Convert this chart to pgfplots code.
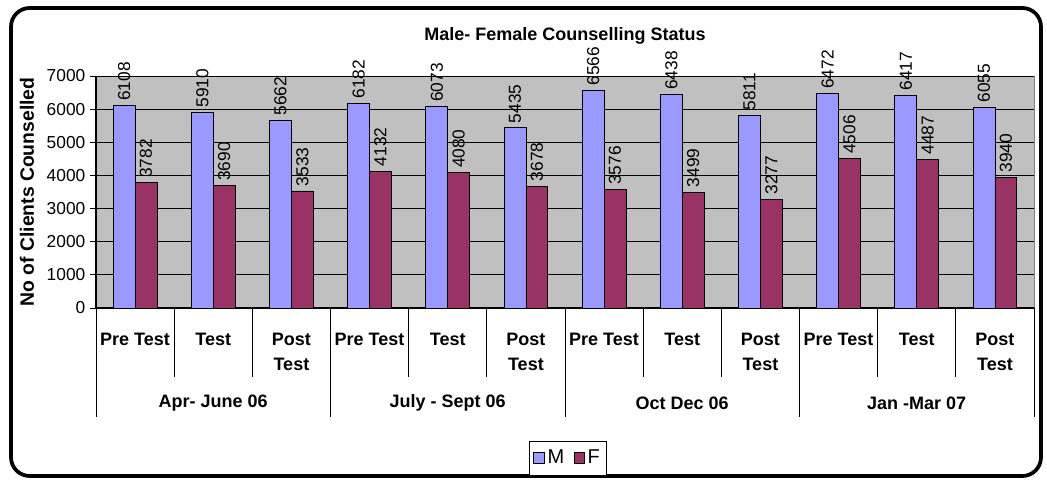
\documentclass[border=0pt]{standalone}
\usepackage{pgfplots}
\pgfplotsset{compat=1.18}
\usepackage{fontspec}
\setmainfont{Liberation Sans}
\definecolor{barM}{HTML}{9999FF}
\definecolor{barF}{HTML}{993366}
\definecolor{plotgray}{HTML}{C0C0C0}

\begin{document}
\begin{tikzpicture}
\path[use as bounding box] (0,0) rectangle (785.25pt,360pt);
\draw[line width=2.8pt, rounded corners=14pt] (8.25pt,3pt) rectangle (780.75pt,354pt);
\begin{axis}[
  at={(72pt,129pt)}, anchor=south west,
  width=703.5pt, height=174pt, scale only axis,
  ybar=0pt, bar width=0.28,
  ymin=0, ymax=7000, xmin=-0.5, xmax=11.5,
  ytick={0,1000,...,7000},
  xtick={0,...,11},
  xticklabels={Pre Test,Test,{Post\\Test},Pre Test,Test,{Post\\Test},Pre Test,Test,{Post\\Test},Pre Test,Test,{Post\\Test}},
  xticklabel style={anchor=north, yshift=-11pt, align=center, font=\fontsize{13.5}{18.75}\selectfont\bfseries},
  yticklabel style={font=\fontsize{13}{15}\selectfont},
  /pgf/number format/assume math mode=true,
  /pgf/number format/1000 sep={},
  x tick style={draw=none},
  y tick style={black, line width=0.6pt},
  tick align=outside, major tick length=4.5pt,
  axis x line*=bottom, axis y line*=left,
  axis line style={black, line width=0.8pt},
  ymajorgrids, grid style={black, line width=0.6pt},
  axis background/.style={fill=plotgray, draw=gray},
  clip=false,
  title={\fontsize{13.5}{16}\selectfont\bfseries Male- Female Counselling Status},
  title style={at={(0.5,1)}, anchor=center, yshift=24pt},
  ylabel={\fontsize{14.5}{16}\selectfont\bfseries No of Clients Counselled},
  ylabel style={at={(-0.0736,0.5)}, anchor=center},
  nodes near coords,
  every node near coord/.append style={rotate=90, anchor=west, font=\fontsize{13}{15}\selectfont, black},
  legend style={at={(0.5032,-0.6466)}, anchor=center, legend columns=2, draw=black, font=\fontsize{15}{17}\selectfont, inner xsep=3pt, inner ysep=5pt, /tikz/every even column/.append style={column sep=5pt}},
  legend image code/.code={\draw[#1, draw=black, line width=0.6pt] (0pt,-4pt) rectangle (8pt,4pt);},
]
\addplot[fill=barM, draw=black, line width=0.6pt] coordinates {
(0,6108) (1,5910) (2,5662) (3,6182) (4,6073) (5,5435) (6,6566) (7,6438) (8,5811) (9,6472) (10,6417) (11,6055)};
\addplot[fill=barF, draw=black, line width=0.6pt] coordinates {
(0,3782) (1,3690) (2,3533) (3,4132) (4,4080) (5,3678) (6,3576) (7,3499) (8,3277) (9,4506) (10,4487) (11,3940)};
\legend{M,F}
\pgfplotsinvokeforeach{-0.5,2.5,5.5,8.5,11.5}{\draw[black, line width=0.6pt] (axis cs:#1,0) -- ([yshift=-81.75pt]axis cs:#1,0);}
\pgfplotsinvokeforeach{0.5,1.5,3.5,4.5,6.5,7.5,9.5,10.5}{\draw[black, line width=0.6pt] (axis cs:#1,0) -- ([yshift=-51.75pt]axis cs:#1,0);}
\node[font=\fontsize{13.5}{16}\selectfont\bfseries] at ([yshift=-71.25pt]axis cs:1,0) {Apr- June 06};
\node[font=\fontsize{13.5}{16}\selectfont\bfseries] at ([yshift=-71.25pt]axis cs:4,0) {July - Sept 06};
\node[font=\fontsize{13.5}{16}\selectfont\bfseries] at ([yshift=-71.25pt]axis cs:7,0) {Oct Dec 06};
\node[font=\fontsize{13.5}{16}\selectfont\bfseries] at ([yshift=-71.25pt]axis cs:10,0) {Jan -Mar 07};
\end{axis}
\end{tikzpicture}
\end{document}
